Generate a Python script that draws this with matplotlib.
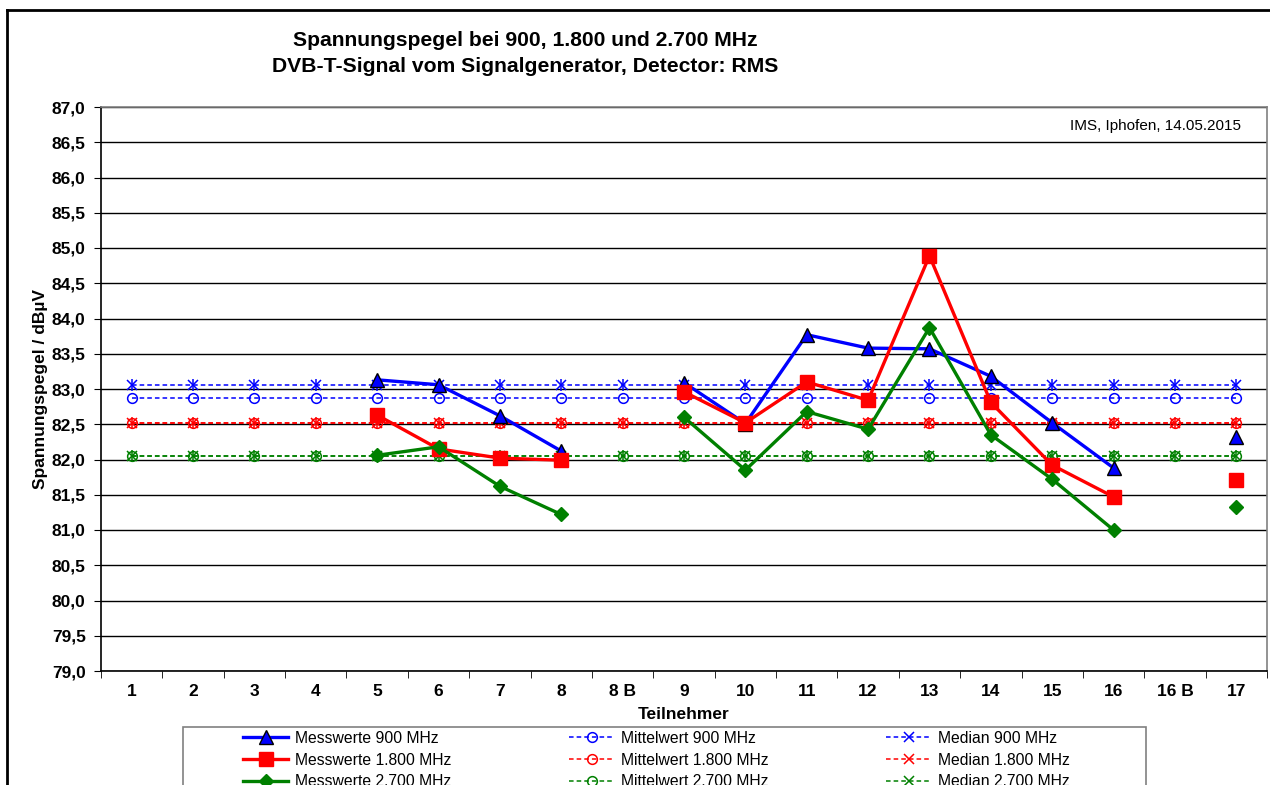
import numpy as np
import matplotlib
matplotlib.use("Agg")
import matplotlib.pyplot as plt
from matplotlib.lines import Line2D
from matplotlib.patches import Rectangle
from matplotlib.ticker import FuncFormatter

plt.rcParams['font.family'] = ['Liberation Sans', 'DejaVu Sans']

categories = ["1", "2", "3", "4", "5", "6", "7", "8", "8 B", "9", "10",
              "11", "12", "13", "14", "15", "16", "16 B", "17"]
nan = np.nan
mess_900 = [nan, nan, nan, nan, 83.13, 83.06, 82.62, 82.12, nan, 83.09, 82.51,
            83.77, 83.58, 83.57, 83.18, 82.52, 81.88, nan, 82.32]
mess_1800 = [nan, nan, nan, nan, 82.63, 82.15, 82.02, 81.99, nan, 82.96, 82.52,
             83.10, 82.84, 84.89, 82.81, 81.92, 81.47, nan, 81.71]
mess_2700 = [nan, nan, nan, nan, 82.06, 82.18, 81.62, 81.22, nan, 82.60, 81.85,
             82.68, 82.43, 83.87, 82.35, 81.72, 81.00, nan, 81.33]
mittel_900, median_900 = 82.87, 83.05
mittel_1800, median_1800 = 82.52, 82.52
mittel_2700, median_2700 = 82.05, 82.05

title_lines = ["Spannungspegel bei 900, 1.800 und 2.700 MHz",
               "DVB-T-Signal vom Signalgenerator, Detector: RMS"]

W, H = 1270, 785
fig = plt.figure(figsize=(W / 100, H / 100), dpi=100)
ax = fig.add_axes([101 / W, 1 - 671 / H, (1267 - 101) / W, (671 - 107) / H])

x = np.arange(len(categories))
BLUE, RED, GREEN = "#0000FF", "#FF0000", "#008000"

# mean / median lines
for val, col, lab in [(mittel_900, BLUE, "Mittelwert 900 MHz"),
                      (mittel_1800, RED, "Mittelwert 1.800 MHz"),
                      (mittel_2700, GREEN, "Mittelwert 2.700 MHz")]:
    ax.plot(x, np.full(len(x), val), ls=(0, (3, 2)), lw=1.1, color=col,
            marker="o", ms=7, mfc="none", mec=col, mew=1.1, label=lab, zorder=3)
for val, col, lab in [(median_900, BLUE, "Median 900 MHz"),
                      (median_1800, RED, "Median 1.800 MHz"),
                      (median_2700, GREEN, "Median 2.700 MHz")]:
    ax.plot(x, np.full(len(x), val), ls=(0, (3, 2)), lw=1.1, color=col,
            marker="x", ms=7, mec=col, mew=1.1, label=lab, zorder=3)
    ax.plot(x, np.full(len(x), val), ls="none", marker="|", ms=9, mec=col,
            mew=1.1, zorder=3)

# measured values
ax.plot(x, mess_900, color=BLUE, lw=2.4, marker="^", ms=10, mfc=BLUE,
        mec="black", mew=1.0, label="Messwerte 900 MHz", zorder=5)
ax.plot(x, mess_1800, color=RED, lw=2.4, marker="s", ms=10, mfc=RED,
        mec=RED, label="Messwerte 1.800 MHz", zorder=5)
ax.plot(x, mess_2700, color=GREEN, lw=2.4, marker="D", ms=7.5, mfc=GREEN,
        mec=GREEN, label="Messwerte 2.700 MHz", zorder=5)

ax.set_xlim(-0.5, len(categories) - 0.5)
ax.set_ylim(79.0, 87.0)
ax.set_yticks(np.arange(79.0, 87.01, 0.5))
ax.yaxis.set_major_formatter(FuncFormatter(lambda v, p: f"{v:.1f}".replace(".", ",")))
ax.grid(axis="y", color="black", lw=1.0, zorder=1)
ax.set_axisbelow(True)

ax.set_xticks(x)
ax.set_xticklabels(categories)
ax.set_xticks(np.arange(-0.5, len(categories), 1.0), minor=True)
ax.tick_params(axis="x", which="major", length=0, pad=9, labelsize=12.5)
ax.tick_params(axis="x", which="minor", length=5, direction="out", color="black")
ax.tick_params(axis="y", length=5, direction="out", color="black", labelsize=12.5, pad=6)
for lbl in ax.get_xticklabels() + ax.get_yticklabels():
    lbl.set_fontweight("bold")

for s in ax.spines.values():
    s.set_color("#808080")
    s.set_linewidth(1.2)
ax.spines["bottom"].set_color("black")
ax.spines["left"].set_color("black")

ax.set_xlabel("Teilnehmer", fontsize=12.5, fontweight="bold", labelpad=6)
ax.set_ylabel("Spannungspegel / dBµV", fontsize=12.5, fontweight="bold", labelpad=3)

ax.text(0.978, 0.967, "IMS, Iphofen, 14.05.2015", transform=ax.transAxes,
        ha="right", va="center", fontsize=11)

fig.text(525 / W, 1 - 41 / H, title_lines[0], ha="center", va="center",
         fontsize=15.2, fontweight="bold")
fig.text(525 / W, 1 - 66 / H, title_lines[1], ha="center", va="center",
         fontsize=15.2, fontweight="bold")

# outer frame
fig.add_artist(Line2D([7 / W, 7 / W], [0, 1 - 10 / H], transform=fig.transFigure,
                      color="black", lw=2))
fig.add_artist(Line2D([7 / W, 1], [1 - 10 / H, 1 - 10 / H], transform=fig.transFigure,
                      color="black", lw=2))

# legend frame
fig.add_artist(Rectangle((183 / W, -0.05), (1146 - 183) / W, (1 - 727 / H) + 0.05,
                         transform=fig.transFigure, fill=False, edgecolor="#808080",
                         lw=1.2, zorder=10))

# legend
h, l = ax.get_legend_handles_labels()
order = ["Messwerte 900 MHz", "Messwerte 1.800 MHz", "Messwerte 2.700 MHz",
         "Mittelwert 900 MHz", "Mittelwert 1.800 MHz", "Mittelwert 2.700 MHz",
         "Median 900 MHz", "Median 1.800 MHz", "Median 2.700 MHz"]
hd = dict(zip(l, h))
leg = fig.legend([hd[k] for k in order], order, ncol=3, loc="upper left",
                 bbox_to_anchor=(239 / W, 1 - 727 / H), frameon=False,
                 fontsize=11.3, handlelength=2.9, handletextpad=0.4,
                 columnspacing=7.5, numpoints=1, borderpad=0.0, labelspacing=0.42,
                 borderaxespad=0.25)
for t in leg.get_texts():
    t.set_color("black")

fig.savefig("out.png", dpi=100)
